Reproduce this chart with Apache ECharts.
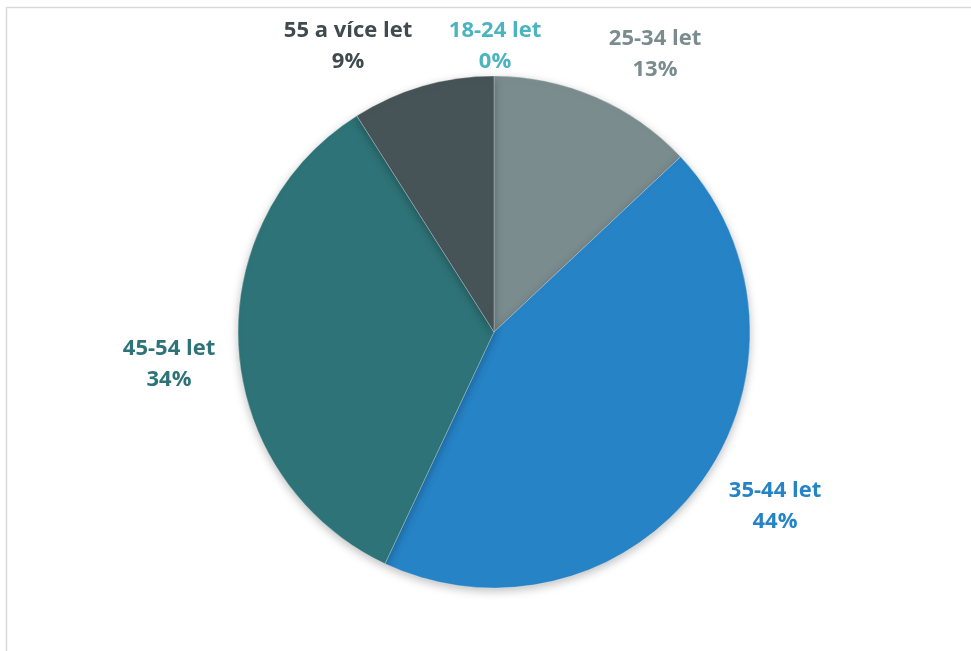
<!DOCTYPE html>
<html>
<head>
<meta charset="utf-8">
<script src="https://cdn.jsdelivr.net/npm/echarts@6/dist/echarts.min.js"></script>
<style>
  html, body { margin: 0; padding: 0; background: #fff; }
  #chart { width: 971px; height: 651px; }
</style>
</head>
<body>
<div id="chart"></div>
<script>
// Age groups and their shares (%)
const categories = ['18-24 let', '25-34 let', '35-44 let', '45-54 let', '55 a více let'];
const shares = [0, 13, 44, 34, 9];
const sliceColors = ['#4BB4C0', '#7B8C8E', '#2683C6', '#2E7377', '#475457'];
const labelColors = ['#4BB4C0', '#7B8C8E', '#2683C6', '#2E7377', '#3F4B4E'];

// Where each outside label sits (centre of the two-line block)
const labelSpots = [
  [495, 46],
  [655, 54],
  [775, 506],
  [169, 364],
  [348, 46]
];

const chart = echarts.init(document.getElementById('chart'));

chart.setOption({
  animation: false,
  backgroundColor: '#ffffff',
  graphic: [{
    type: 'rect',
    shape: { x: 6.5, y: 7.5, width: 1000, height: 700 },
    style: { fill: 'none', stroke: '#d9d9d9', lineWidth: 1.5 },
    silent: true
  }],
  series: [{
    type: 'pie',
    center: [494, 332],
    radius: [0, 256],
    startAngle: 90,
    clockwise: true,
    avoidLabelOverlap: false,
    data: categories.map((name, i) => ({
      name: name,
      value: shares[i],
      itemStyle: { color: sliceColors[i] },
      label: { color: labelColors[i] }
    })),
    itemStyle: {
      borderColor: 'rgba(255,255,255,0.45)',
      borderWidth: 0.6,
      shadowBlur: 10,
      shadowOffsetY: 3,
      shadowColor: 'rgba(0,0,0,0.25)'
    },
    label: {
      show: true,
      position: 'outside',
      formatter: p => p.name + '\n' + p.value + '%',
      fontFamily: '"Open Sans", "Noto Sans", sans-serif',
      fontWeight: 'bold',
      fontSize: 22,
      lineHeight: 31,
      align: 'center'
    },
    labelLine: { show: false },
    labelLayout: function (params) {
      const spot = labelSpots[params.dataIndex];
      return {
        x: spot[0],
        y: spot[1],
        align: 'center',
        verticalAlign: 'middle'
      };
    }
  }]
});
</script>
</body>
</html>
